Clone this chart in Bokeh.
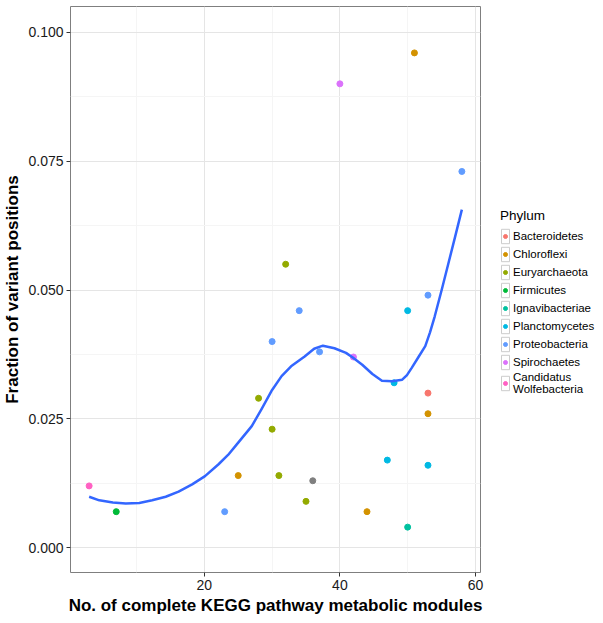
from bokeh.plotting import figure
from bokeh.models import (FixedTicker, Legend, LegendItem, Range1d,
                          ColumnDataSource, NumeralTickFormatter)
from bokeh.embed import file_html
from bokeh.resources import INLINE

# ---- data ----
phyla = ["Bacteroidetes", "Chloroflexi", "Euryarchaeota", "Firmicutes",
         "Ignavibacteriae", "Planctomycetes", "Proteobacteria", "Spirochaetes",
         "Candidatus\nWolfebacteria"]
colors = ["#F8766D", "#D39200", "#93AA00", "#00BA38", "#00C19F",
          "#00B9E3", "#619CFF", "#DB72FB", "#FF61C3"]

bacteroidetes_x = [53]
bacteroidetes_y = [0.030]
chloroflexi_x = [25, 44, 51, 53]
chloroflexi_y = [0.014, 0.007, 0.096, 0.026]
euryarchaeota_x = [28, 30, 31, 32, 35]
euryarchaeota_y = [0.029, 0.023, 0.014, 0.055, 0.009]
firmicutes_x = [7]
firmicutes_y = [0.007]
ignavibacteriae_x = [50]
ignavibacteriae_y = [0.004]
planctomycetes_x = [47, 48, 50, 53]
planctomycetes_y = [0.017, 0.032, 0.046, 0.016]
proteobacteria_x = [23, 30, 34, 37, 53, 58]
proteobacteria_y = [0.007, 0.040, 0.046, 0.038, 0.049, 0.073]
spirochaetes_x = [40, 42]
spirochaetes_y = [0.090, 0.037]
wolfebacteria_x = [3]
wolfebacteria_y = [0.012]
na_x = [36]
na_y = [0.013]

smooth_x = [3.0, 4.5, 6.5, 8.4, 10.4, 12.3, 14.3, 16.2, 18.2, 20.1, 22.1, 23.5,
            25.0, 27.0, 28.4, 29.9, 31.4, 32.8, 34.8, 36.2, 37.5, 39.2, 40.9,
            41.9, 43.3, 44.8, 46.2, 47.7, 49.2, 49.9, 50.6, 51.6, 52.6, 53.3,
            54.0, 55.0, 56.0, 57.0, 58.0]
smooth_y = [0.0099, 0.0092, 0.0088, 0.0086, 0.0087, 0.0092, 0.0099, 0.0109,
            0.0123, 0.0139, 0.0162, 0.0180, 0.0204, 0.0236, 0.0268, 0.0304,
            0.0333, 0.0352, 0.0371, 0.0386, 0.0392, 0.0387, 0.0378, 0.0369,
            0.0355, 0.0337, 0.0324, 0.0323, 0.0326, 0.0335, 0.0349, 0.0370,
            0.0391, 0.0418, 0.0449, 0.0499, 0.0551, 0.0603, 0.0656]

x_ticks = [20, 40, 60]
x_minor = [10, 30, 50]
y_ticks = [0.0, 0.025, 0.05, 0.075, 0.1]
y_minor = [0.0125, 0.0375, 0.0625, 0.0875]

groups = [
    (bacteroidetes_x, bacteroidetes_y),
    (chloroflexi_x, chloroflexi_y),
    (euryarchaeota_x, euryarchaeota_y),
    (firmicutes_x, firmicutes_y),
    (ignavibacteriae_x, ignavibacteriae_y),
    (planctomycetes_x, planctomycetes_y),
    (proteobacteria_x, proteobacteria_y),
    (spirochaetes_x, spirochaetes_y),
    (wolfebacteria_x, wolfebacteria_y),
]

FONT = "Liberation Sans"

p = figure(frame_width=410, frame_height=566,
           x_range=Range1d(0.25, 60.75), y_range=Range1d(-0.0048, 0.1050),
           output_backend="svg", toolbar_location=None,
           min_border_left=66, min_border_right=111,
           min_border_top=6, min_border_bottom=30,
           background_fill_color="white", border_fill_color="white")

p.outline_line_color = "#7F7F7F"
p.outline_line_width = 1

p.xaxis.ticker = FixedTicker(ticks=x_ticks, minor_ticks=x_minor)
p.yaxis.ticker = FixedTicker(ticks=y_ticks, minor_ticks=y_minor)
p.yaxis.formatter = NumeralTickFormatter(format="0.000")

for ax in (p.xaxis, p.yaxis):
    ax.axis_line_color = None
    ax.major_tick_line_color = "#333333"
    ax.major_tick_in = 0
    ax.major_tick_out = 4
    ax.minor_tick_line_color = None
    ax.major_label_text_font = FONT
    ax.major_label_text_font_size = "14px"
    ax.major_label_text_color = "#1a1a1a"
    ax.major_label_standoff = 3
    ax.axis_label_text_font = FONT
    ax.axis_label_text_font_size = "17px"
    ax.axis_label_text_font_style = "bold"
    ax.axis_label_text_color = "black"
    ax.axis_label_standoff = 3

p.xaxis.axis_label = "No. of complete KEGG pathway metabolic modules"
p.yaxis.axis_label = "Fraction of variant positions"

for g in (p.xgrid, p.ygrid):
    g.grid_line_color = "#E5E5E5"
    g.grid_line_width = 1
    g.minor_grid_line_color = "#F5F5F5"
    g.minor_grid_line_width = 1

# legend key box (one NaN row: invisible in the plot, drawn in the legend)
keybox = p.rect(x=[float("nan")], y=[float("nan")], width=[1], height=[1],
                fill_color="white", line_color="#CCCCCC", line_width=1)

items = []
for name, col, (gx, gy) in zip(phyla, colors, groups):
    src = ColumnDataSource(dict(x=gx, y=gy))
    r = p.scatter("x", "y", source=src, size=6, color=col, line_color=col)
    items.append(LegendItem(label=name, renderers=[keybox, r]))

p.scatter(na_x, na_y, size=6, color="#7F7F7F")

p.line(smooth_x, smooth_y, line_color="#3366FF", line_width=2.5,
       line_join="round")

legend = Legend(items=items, location=(20, 177),
                title="Phylum", title_text_font=FONT,
                title_text_font_style="normal", title_text_color="black",
                title_text_font_size="13.5px", title_standoff=4,
                label_text_font=FONT, label_text_font_size="11.5px",
                label_text_color="black",
                label_standoff=3, glyph_width=10, glyph_height=18,
                label_height=18, spacing=0, padding=2, margin=12,
                border_line_color=None, background_fill_alpha=0)
p.add_layout(legend, "right")

open("out.html", "w").write(file_html(p, INLINE))
